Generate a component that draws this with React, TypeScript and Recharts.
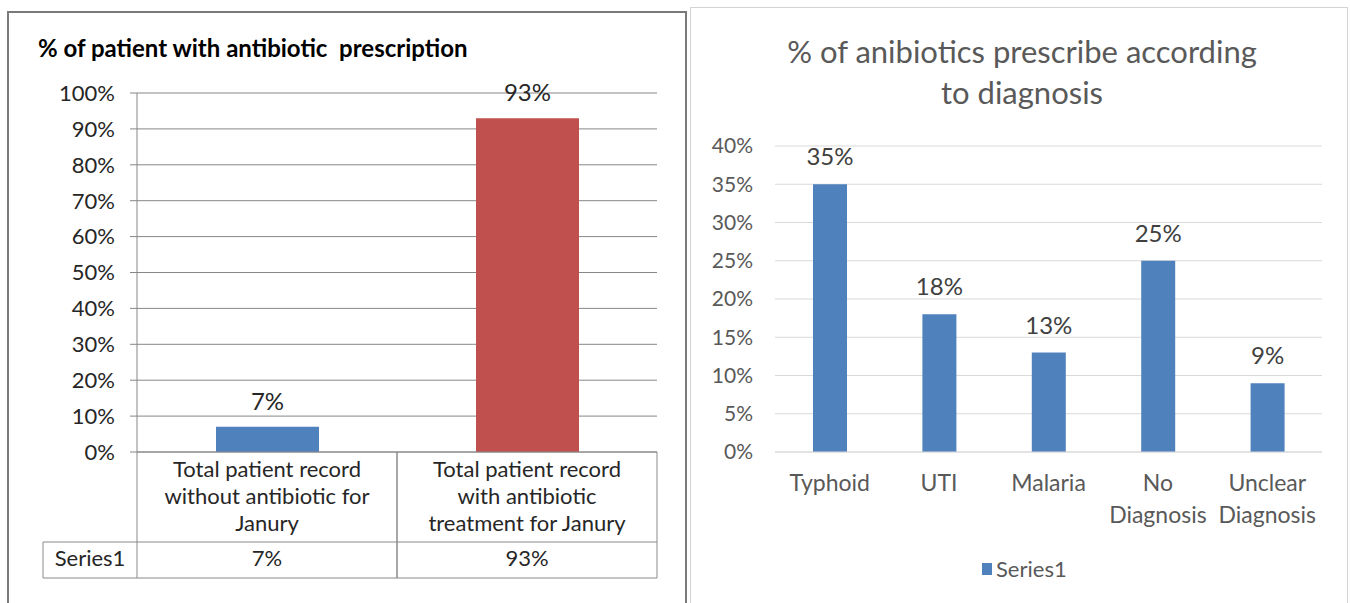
import * as React from "react";
import { Bar, BarChart, CartesianGrid, Cell, LabelList, XAxis, YAxis } from "recharts";

// left chart: share of patient records with / without antibiotics
const leftCategories = [
  "Total patient record\nwithout antibiotic for\nJanury",
  "Total patient record\nwith antibiotic\ntreatment for Janury",
];
const leftValues = [0.07, 0.93];
const leftColors = ["#4F81BD", "#C0504D"];
const leftTicks = [0, 0.1, 0.2, 0.3, 0.4, 0.5, 0.6, 0.7, 0.8, 0.9, 1];
const leftSeriesName = "Series1";

// right chart: antibiotics by diagnosis
const rightCategories = ["Typhoid", "UTI", "Malaria", "No Diagnosis", "Unclear Diagnosis"];
const rightValues = [0.35, 0.18, 0.13, 0.25, 0.09];
const rightTicks = [0, 0.05, 0.1, 0.15, 0.2, 0.25, 0.3, 0.35, 0.4];

const FONT = "Lato, 'Open Sans', sans-serif";
const pct = (v: number) => `${Math.round(v * 100)}%`;

const leftData = leftCategories.map((label, i) => ({ label, value: leftValues[i] }));
const rightData = rightCategories.map((label, i) => ({ label, value: rightValues[i] }));

const LEFT_W = 690;
const LEFT_MARGIN = { top: 93, right: 33, left: 0, bottom: 0 };
const LEFT_YAXIS_W = 137;
const LEFT_BAND = (LEFT_W - LEFT_MARGIN.right - LEFT_YAXIS_W) / leftCategories.length;
const TABLE_LINE = "#8a8a8a";
const TABLE_FONT = 22;

/** Category axis drawn as the Excel-style data table under the plot. */
function LeftTableTick(props: any) {
  const { x, y, index } = props;
  const half = LEFT_BAND / 2;
  const lines = leftCategories[index].split("\n");
  const x0 = x - half;
  const x1 = x + half;
  return (
    <g>
      <line x1={x0} y1={y} x2={x0} y2={y + 126} stroke={TABLE_LINE} />
      <line x1={x1} y1={y} x2={x1} y2={y + 126} stroke={TABLE_LINE} />
      <line x1={x0} y1={y + 90} x2={x1} y2={y + 90} stroke={TABLE_LINE} />
      <line x1={x0} y1={y + 126} x2={x1} y2={y + 126} stroke={TABLE_LINE} />
      {lines.map((ln, i) => (
        <text
          key={i}
          x={x}
          y={y + 17 + i * 27}
          dy="0.35em"
          textAnchor="middle"
          fontSize={TABLE_FONT}
          fill="#262626"
          fontFamily={FONT}
        >
          {ln}
        </text>
      ))}
      <text x={x} y={y + 106} dy="0.35em" textAnchor="middle" fontSize={TABLE_FONT} fill="#262626" fontFamily={FONT}>
        {pct(leftValues[index])}
      </text>
      {index === 0 && (
        <g>
          <line x1={x0 - 94} y1={y + 90} x2={x0} y2={y + 90} stroke={TABLE_LINE} />
          <line x1={x0 - 94} y1={y + 126} x2={x0} y2={y + 126} stroke={TABLE_LINE} />
          <line x1={x0 - 94} y1={y + 90} x2={x0 - 94} y2={y + 126} stroke={TABLE_LINE} />
          <text x={x0 - 47} y={y + 106} dy="0.35em" textAnchor="middle" fontSize={TABLE_FONT} fill="#262626" fontFamily={FONT}>
            {leftSeriesName}
          </text>
        </g>
      )}
    </g>
  );
}

function RightCategoryTick(props: any) {
  const { x, y, payload } = props;
  const lines = String(payload.value).split(" ");
  return (
    <g>
      {lines.map((ln, i) => (
        <text
          key={i}
          x={x}
          y={y + 31 + i * 32}
          dy="0.35em"
          textAnchor="middle"
          fontSize={23}
          fill="#595959"
          fontFamily={FONT}
        >
          {ln}
        </text>
      ))}
    </g>
  );
}

export default function App() {
  return (
    <div
      style={{
        position: "absolute",
        left: 0,
        top: 0,
        width: 1350,
        height: 603,
        overflow: "hidden",
        background: "#fff",
        fontFamily: FONT,
      }}
    >
      {/* panel frames */}
      <div
        style={{
          position: "absolute",
          left: 7,
          top: 11,
          width: 680,
          height: 640,
          border: "2px solid #7a7a7a",
          boxSizing: "border-box",
        }}
      />
      <div
        style={{
          position: "absolute",
          left: 690,
          top: 7,
          width: 658,
          height: 640,
          border: "1px solid #d3d3d3",
          boxSizing: "border-box",
        }}
      />

      <div
        style={{
          position: "absolute",
          left: 38,
          top: 33,
          fontSize: 24,
          fontWeight: 700,
          color: "#000",
          whiteSpace: "pre",
        }}
      >
        % of patient with antibiotic  prescription
      </div>

      <div style={{ position: "absolute", left: 0, top: 0 }}>
        <BarChart width={LEFT_W} height={603} data={leftData} margin={LEFT_MARGIN}>
          <CartesianGrid vertical={false} stroke="#878787" />
          <YAxis
            type="number"
            domain={[0, 1]}
            ticks={leftTicks}
            tickFormatter={pct}
            width={LEFT_YAXIS_W}
            axisLine={{ stroke: "#878787" }}
            tickLine={{ stroke: "#878787" }}
            tickSize={7}
            tickMargin={15}
            tick={{ fill: "#262626", fontSize: 22, fontFamily: FONT }}
            interval={0}
          />
          <XAxis
            dataKey="label"
            height={151}
            axisLine={{ stroke: TABLE_LINE }}
            tickLine={false}
            tickSize={0}
            tickMargin={0}
            interval={0}
            tick={<LeftTableTick />}
          />
          <Bar dataKey="value" barSize={103} isAnimationActive={false}>
            {leftData.map((d, i) => (
              <Cell key={d.label} fill={leftColors[i]} />
            ))}
            <LabelList
              dataKey="value"
              position="top"
              offset={17}
              formatter={(v: any) => pct(Number(v))}
              style={{ fill: "#262626", fontSize: 24, fontFamily: FONT }}
            />
          </Bar>
        </BarChart>
      </div>

      <div
        style={{
          position: "absolute",
          left: 690,
          top: 31,
          width: 664,
          textAlign: "center",
          fontSize: 31,
          lineHeight: "41px",
          color: "#595959",
        }}
      >
        % of anibiotics prescribe according
        <br />
        to diagnosis
      </div>

      <div style={{ position: "absolute", left: 690, top: 0 }}>
        <BarChart
          width={660}
          height={603}
          data={rightData}
          margin={{ top: 146, right: 28, left: 0, bottom: 0 }}
        >
          <CartesianGrid vertical={false} stroke="#d9d9d9" />
          <YAxis
            type="number"
            domain={[0, 0.4]}
            ticks={rightTicks}
            tickFormatter={pct}
            width={85}
            axisLine={false}
            tickLine={false}
            tickSize={0}
            tickMargin={22}
            interval={0}
            tick={{ fill: "#595959", fontSize: 21, fontFamily: FONT }}
          />
          <XAxis
            dataKey="label"
            height={151}
            axisLine={{ stroke: "#d9d9d9" }}
            tickLine={false}
            tickSize={0}
            tickMargin={0}
            interval={0}
            tick={<RightCategoryTick />}
          />
          <Bar dataKey="value" fill="#4F81BD" barSize={34} isAnimationActive={false}>
            <LabelList
              dataKey="value"
              position="top"
              offset={19}
              formatter={(v: any) => pct(Number(v))}
              style={{ fill: "#404040", fontSize: 24, fontFamily: FONT }}
            />
          </Bar>
        </BarChart>
      </div>

      {/* legend */}
      <div
        style={{
          position: "absolute",
          left: 982,
          top: 555,
          display: "flex",
          alignItems: "center",
          fontSize: 22,
          color: "#595959",
        }}
      >
        <span style={{ display: "inline-block", width: 10, height: 12, background: "#4F81BD", marginRight: 4 }} />
        {leftSeriesName}
      </div>
    </div>
  );
}
